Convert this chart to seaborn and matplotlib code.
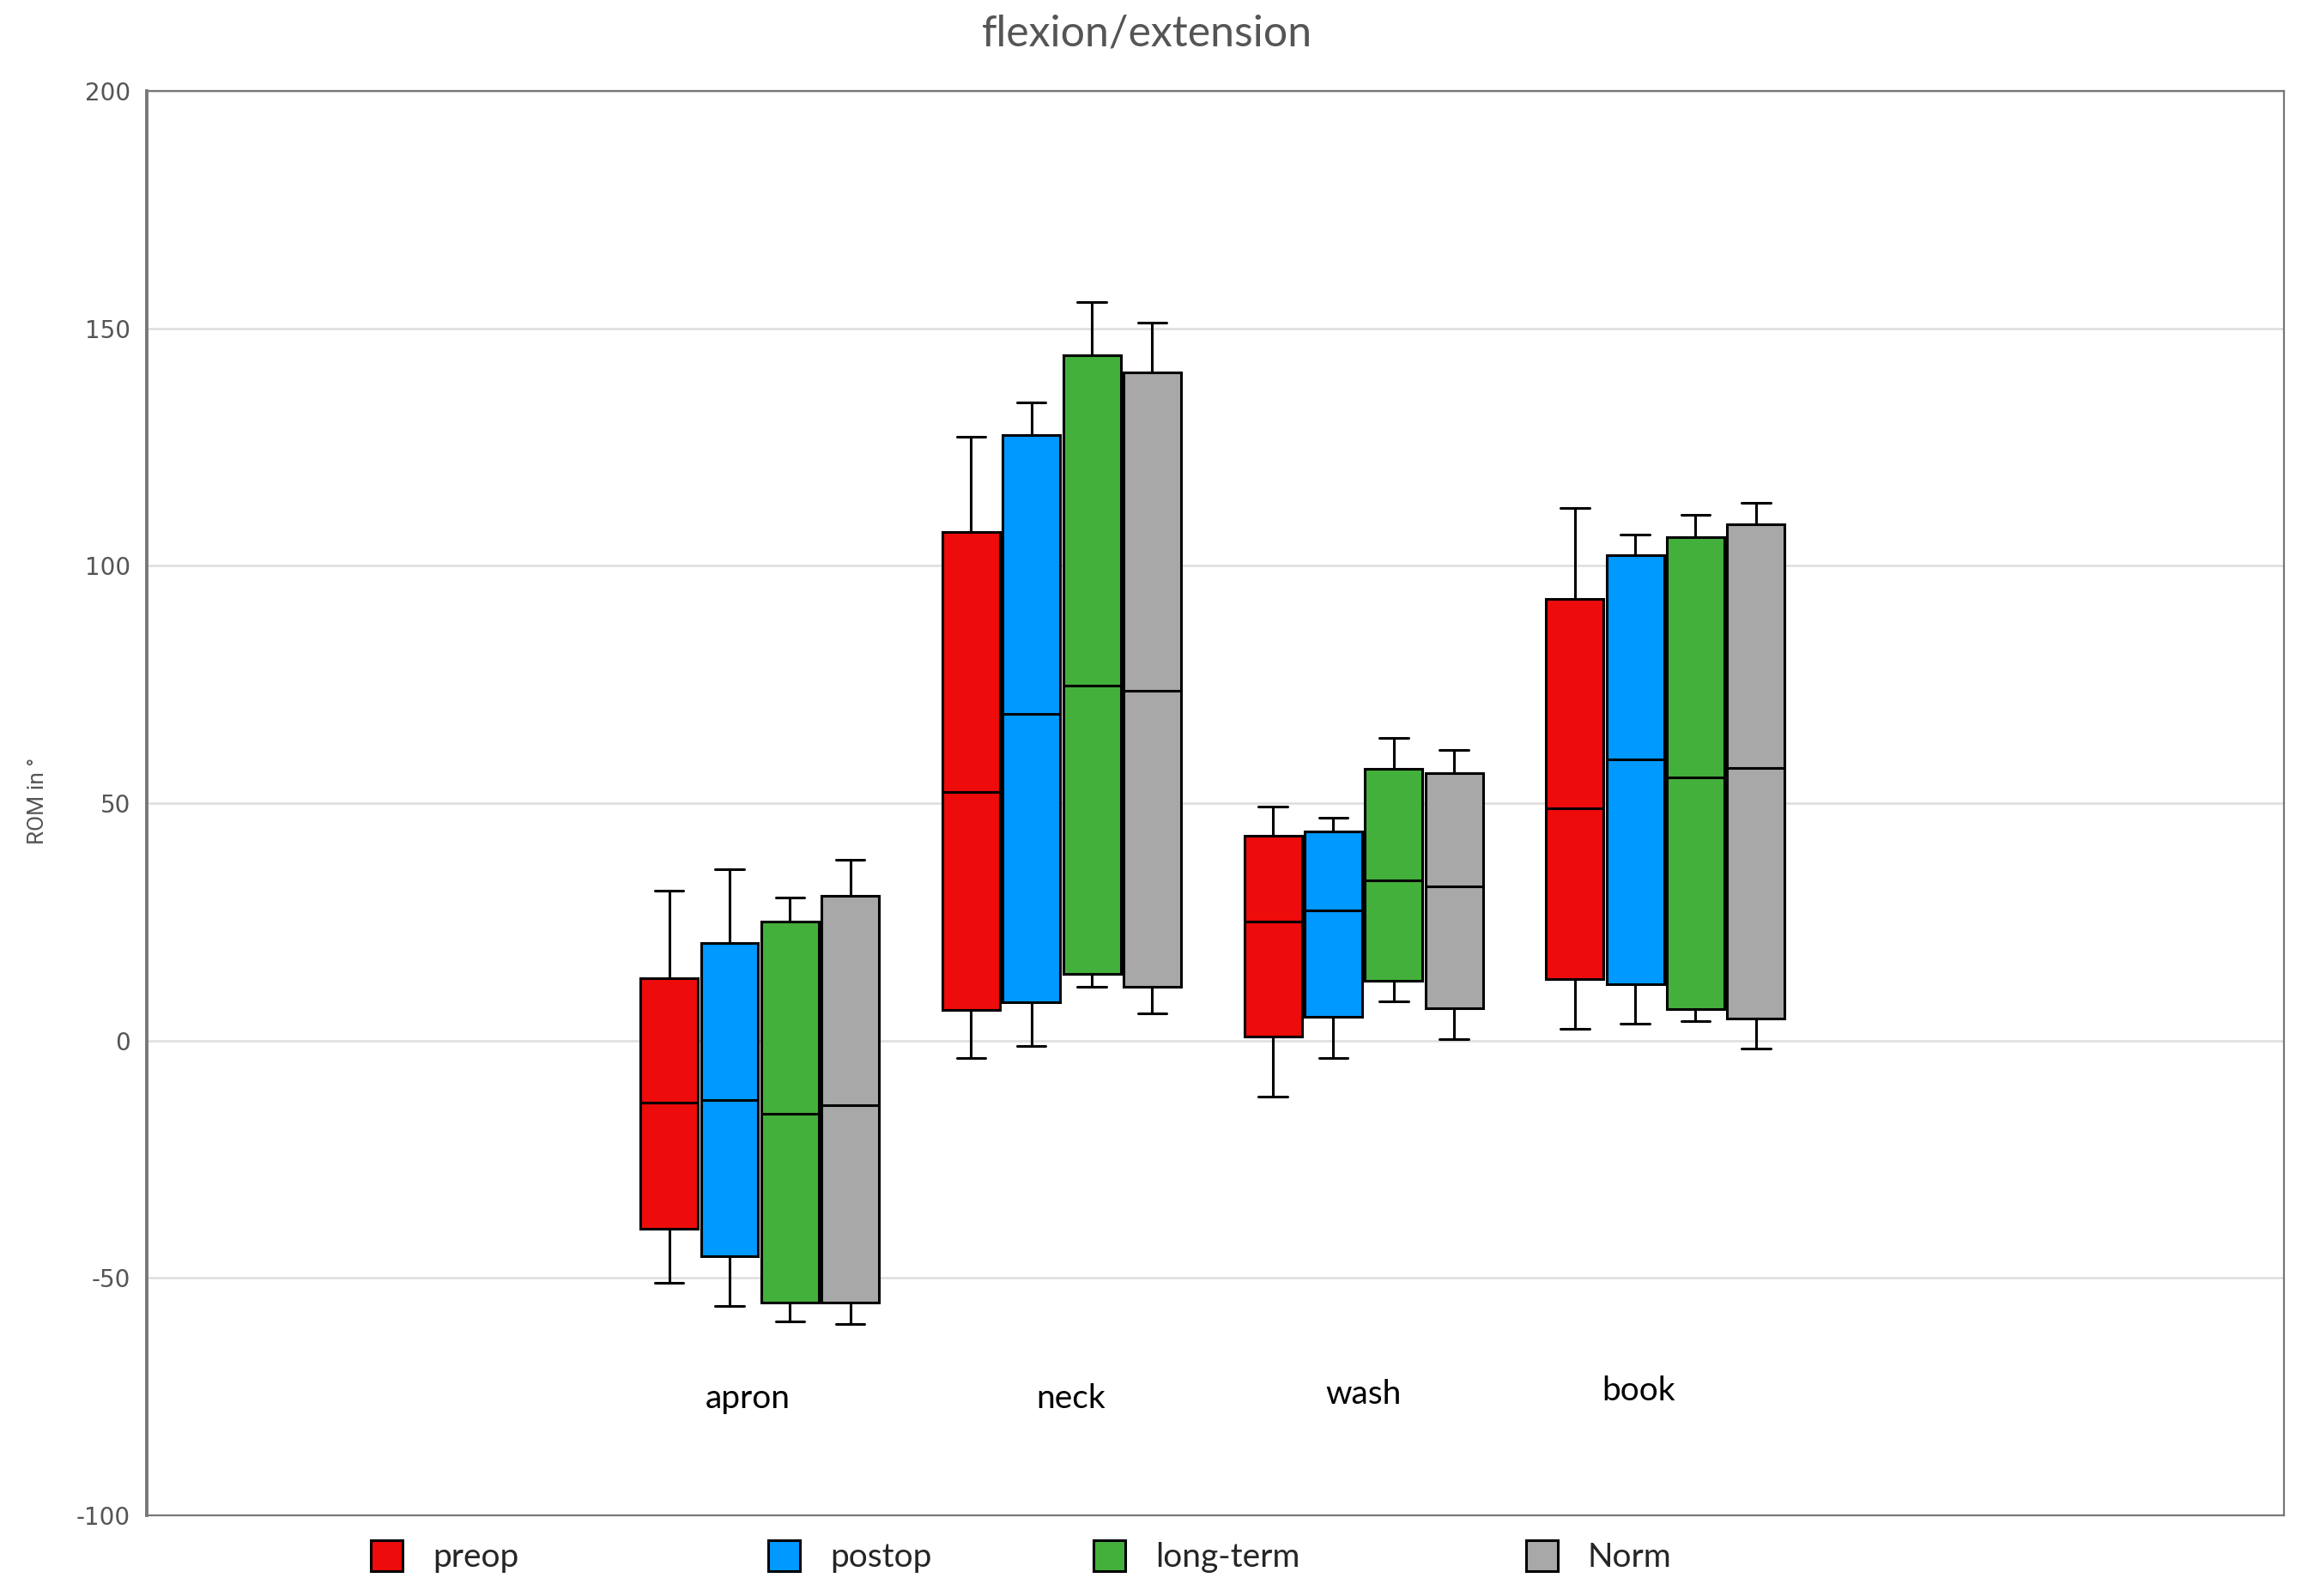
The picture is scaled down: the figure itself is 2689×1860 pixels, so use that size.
import numpy as np
import pandas as pd
import matplotlib
matplotlib.use("Agg")
import matplotlib.pyplot as plt
import seaborn as sns

# tasks on the x axis and the four measurement groups
categories = ["apron", "neck", "wash", "book"]
groups = ["preop", "postop", "long-term", "Norm"]
colors = ["#EE0B0B", "#0099FF", "#44B03C", "#A8A8A8"]

# five-number summaries, one per task:
# whisker low, q1, median, q3, whisker high
preop = [[-51.1, -39.6, -13.1, 13.2, 31.6],
         [-3.7, 6.5, 52.3, 107.2, 127.2],
         [-11.8, 0.9, 25.1, 43.1, 49.2],
         [2.4, 12.9, 48.9, 93.1, 112.2]]
postop = [[-55.9, -45.5, -12.5, 20.5, 36.1],
          [-1.1, 8.1, 68.8, 127.5, 134.4],
          [-3.6, 5.0, 27.5, 44.1, 46.9],
          [3.5, 11.8, 59.2, 102.2, 106.5]]
longterm = [[-59.1, -55.1, -15.5, 25.1, 30.2],
            [11.3, 14.0, 74.8, 144.3, 155.5],
            [8.2, 12.6, 33.8, 57.3, 63.7],
            [4.1, 6.7, 55.5, 106.1, 110.8]]
norm = [[-59.6, -55.1, -13.6, 30.5, 38.0],
        [5.8, 11.3, 73.6, 140.7, 151.3],
        [0.3, 6.8, 32.5, 56.3, 61.3],
        [-1.7, 4.7, 57.5, 108.8, 113.3]]

summaries = {"preop": preop, "postop": postop, "long-term": longterm, "Norm": norm}

# long-form table: five values per box give exactly these quartiles
rows = []
for grp in groups:
    for task, vals in zip(categories, summaries[grp]):
        for v in vals:
            rows.append({"task": task, "group": grp, "rom": v})
df = pd.DataFrame(rows)

sns.set_theme(style="white")
plt.rcParams["font.family"] = ["DejaVu Sans"]
plt.rcParams["axes.unicode_minus"] = False

fig = plt.figure(figsize=(26.89, 18.60), dpi=100)
ax = fig.add_axes([0.0637, 0.0505, 0.926, 0.8925])

sns.boxplot(data=df, x="task", y="rom", hue="group",
            order=categories, hue_order=groups, palette=colors,
            width=0.8, gap=0.05, whis=(0, 100), saturation=1,
            linecolor="black", linewidth=2.2, ax=ax, legend=True)

ax.set_xlim(-2.03, 5.05)
ax.set_ylim(-100, 200)
ax.set_yticks(np.arange(-100, 201, 50))
ax.set_xticks([])
ax.set_xlabel("")
ax.set_ylabel("")
ax.tick_params(axis="y", length=0, pad=14, labelsize=20, labelcolor="#555555")
ax.yaxis.grid(True, color="#dddddd", linewidth=1.8)
ax.xaxis.grid(False)
ax.set_axisbelow(True)
for side, sp in ax.spines.items():
    sp.set_visible(True)
    sp.set_color("#777777")
    sp.set_linewidth(1.6)
ax.spines["left"].set_linewidth(2.8)

# task names sit inside the plot area below the boxes
label_dx = [-0.04, 0.03, 0.0, -0.09]
label_y = [-75.5, -75.5, -74.5, -73.8]
for i, task in enumerate(categories):
    ax.text(i + label_dx[i], label_y[i], task, ha="center", va="center",
            fontsize=28, family="Lato", color="black")

fig.text(0.497, 0.979, "flexion/extension", ha="center", va="center",
         fontsize=36, family="Lato", color="#555555")
fig.text(0.0165, 0.498, "ROM in °", ha="center", va="center", rotation=90,
         fontsize=19, family="Roboto", color="#555555")

# one legend per entry so the uneven spacing of the original is kept
leg = ax.get_legend()
handles = leg.legend_handles
labels = [t.get_text() for t in leg.texts]
leg.remove()
legend_x = [0.1607, 0.3328, 0.4738, 0.6612]
for h, lab, x in zip(handles, labels, legend_x):
    fig.legend([h], [lab], loc="center left", bbox_to_anchor=(x, 0.0247),
               frameon=False, borderpad=0, borderaxespad=0,
               handlelength=0.95, handleheight=1.05, handletextpad=0.9,
               prop={"family": "Lato", "size": 28})

fig.savefig("out.png", dpi=100)
